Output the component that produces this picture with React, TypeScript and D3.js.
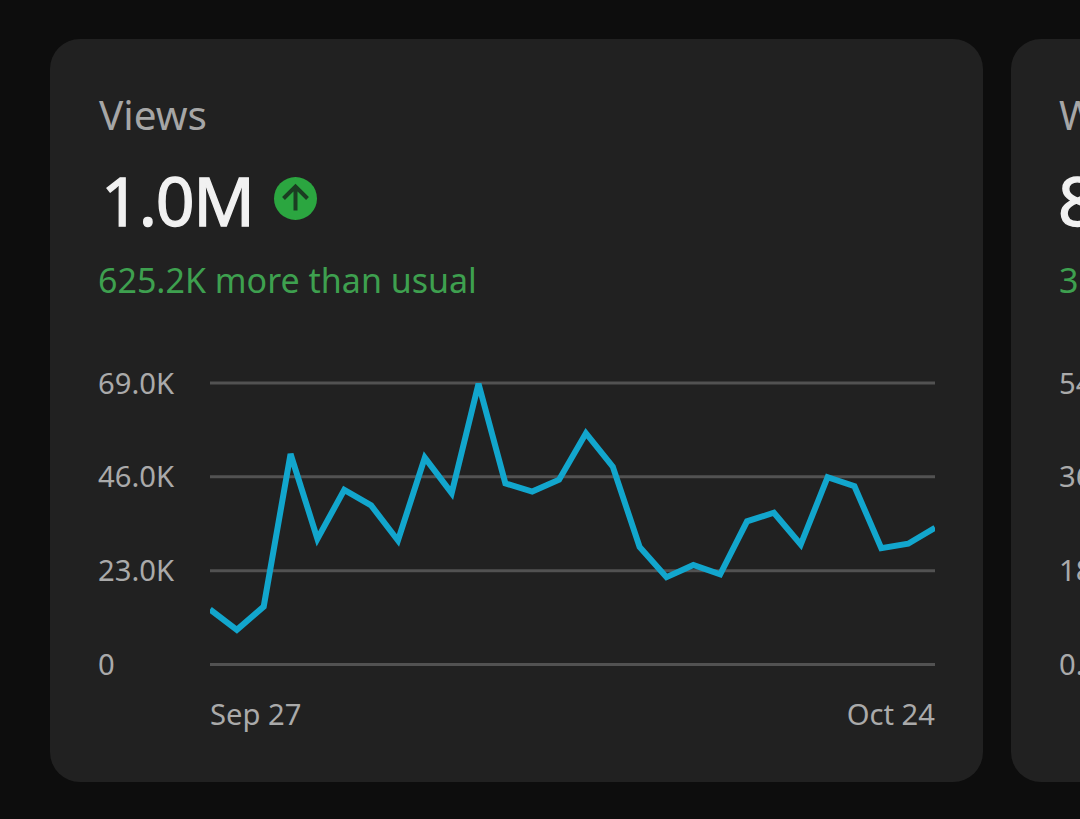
import * as d3 from 'd3'

const WIDTH = 1080
const HEIGHT = 819
const FONT = '"Noto Sans", sans-serif'

const PLOT = {left: 210, right: 935, top: 383, bottom: 664.5}

// daily views in thousands, Sep 27 to Oct 24
const views = [
  13.5, 8.5, 14.2, 51.6, 30.8, 42.8, 39.0, 30.4, 50.7, 42.0, 68.8, 44.4, 42.4, 45.3,
  56.7, 48.5, 28.8, 21.4, 24.4, 22.1, 35.1, 37.2, 29.4, 45.9, 43.7, 28.5, 29.6, 33.5,
]
const yTicks = [0, 23, 46, 69]
const yTickLabels = ['0', '23.0K', '46.0K', '69.0K']
const xLabels = ['Sep 27', 'Oct 24']
// the next card is cut off by the edge of the picture
const nextCardTicks = ['0.', '18', '36', '54']

const xScale = d3.scaleLinear().domain([0, views.length - 1]).range([PLOT.left, PLOT.right])
const yScale = d3.scaleLinear().domain([0, 69]).range([PLOT.bottom, PLOT.top])

const linePath = d3
  .line<number>()
  .x((_, i) => xScale(i))
  .y(d => yScale(d))(views)

export default function App() {
  return (
    <svg
      width={WIDTH}
      height={HEIGHT}
      style={{position: 'absolute', left: 0, top: 0, display: 'block'}}
      fontFamily={FONT}>
      <defs>
        <clipPath id="plot-clip">
          <rect x={PLOT.left} y={0} width={PLOT.right - PLOT.left} height={HEIGHT} />
        </clipPath>
      </defs>
      <rect width={WIDTH} height={HEIGHT} fill="#0d0d0d" />
      <rect x={50} y={39} width={933} height={743} rx={30} fill="#212121" />
      <rect x={1011} y={39} width={200} height={743} rx={30} fill="#212121" />

      <text x={99} y={130} fontSize={40.5} fill="#a6a6a6">Views</text>
      <text x={101} y={226} fontSize={68} fill="#f1f1f1" stroke="#f1f1f1" strokeWidth={1.3} textLength={154}>1.0M</text>
      <g transform="translate(295.5,198.5)">
        <circle r={21.5} fill="#2ba640" />
        <path
          d="M0,12 V-12 M-12,0 L0,-12 L12,0"
          fill="none"
          stroke="#1b3d22"
          strokeWidth={4}
        />
      </g>
      <text x={98} y={293} fontSize={34} fill="#3ea04f">625.2K more than usual</text>

      {yTicks.map((t, i) => (
        <g key={t}>
          <line
            x1={PLOT.left}
            x2={PLOT.right}
            y1={yScale(t)}
            y2={yScale(t)}
            stroke="#525252"
            strokeWidth={3}
          />
          <text x={98} y={yScale(t) + 10.5} fontSize={29.2} fill="#aaaaaa">
            {yTickLabels[i]}
          </text>
          <text x={1059} y={yScale(t) + 10.5} fontSize={29.2} fill="#aaaaaa">
            {nextCardTicks[i]}
          </text>
        </g>
      ))}

      <path
        d={linePath ?? ''}
        fill="none"
        stroke="#12a6cd"
        strokeWidth={6}
        strokeLinejoin="miter"
        clipPath="url(#plot-clip)"
      />

      <text x={PLOT.left} y={725} fontSize={29.2} fill="#aaaaaa">{xLabels[0]}</text>
      <text x={PLOT.right} y={725} fontSize={29.2} fill="#aaaaaa" textAnchor="end">{xLabels[1]}</text>

      <text x={1059} y={130} fontSize={40.5} fill="#a6a6a6">W</text>
      <text x={1058} y={226} fontSize={68} fill="#f1f1f1" stroke="#f1f1f1" strokeWidth={1.3}>8</text>
      <text x={1059} y={293} fontSize={34} fill="#3ea04f">3</text>
    </svg>
  )
}
